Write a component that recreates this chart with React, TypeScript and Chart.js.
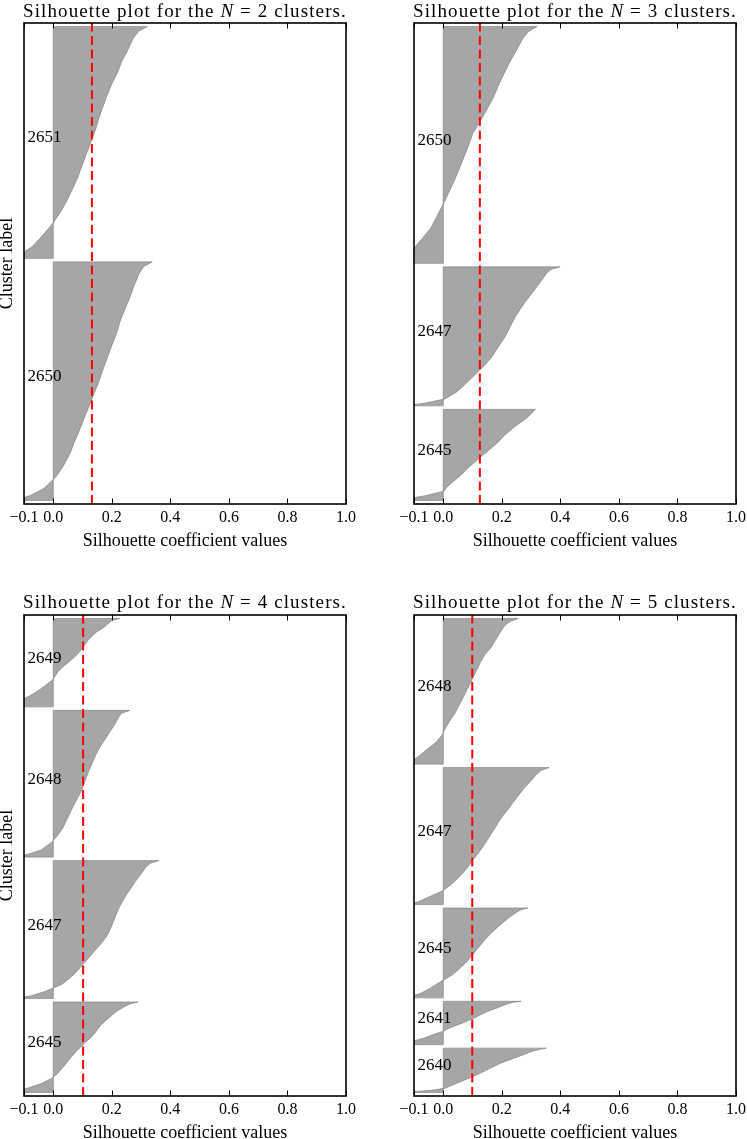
import React, { useEffect, useRef } from "react";
import { Chart, registerables } from "chart.js";

Chart.register(...registerables);

const FONT = '"Liberation Serif", "Times New Roman", serif';
const GRAY = "rgba(128,128,128,0.7)";

// sorted-position fractions at which each cluster's silhouette profile was read
const FRACTIONS = [0, 0.02, 0.05, 0.1, 0.15, 0.2, 0.25, 0.3, 0.35, 0.4, 0.45, 0.5, 0.55, 0.6, 0.65, 0.7, 0.75, 0.8, 0.85, 0.9, 0.95, 0.98, 1];

const X_TICKS = [-0.1, 0.0, 0.2, 0.4, 0.6, 0.8, 1.0];
const X_MIN = -0.1;
const X_MAX = 1.0;
const GAP = 10;
const LABEL_X = -0.088;

const N_CLUSTERS = [2, 3, 4, 5];
const AVERAGES = [0.132, 0.125, 0.102, 0.099];

// N = 2
const LABELS_2 = ["2650", "2651"];
const SIZES_2 = [673, 654];
const SIL_2_2650 = [-0.13, -0.08, -0.032, 0.01, 0.037, 0.058, 0.074, 0.091, 0.107, 0.124, 0.14, 0.156, 0.17, 0.185, 0.2, 0.216, 0.228, 0.244, 0.261, 0.276, 0.293, 0.308, 0.338];
const SIL_2_2651 = [-0.14, -0.11, -0.072, -0.036, -0.002, 0.025, 0.047, 0.066, 0.084, 0.098, 0.113, 0.128, 0.143, 0.155, 0.168, 0.183, 0.199, 0.219, 0.234, 0.255, 0.273, 0.292, 0.321];

// N = 3
const LABELS_3 = ["2645", "2647", "2650"];
const SIZES_3 = [259, 395, 673];
const SIL_3_2645 = [-0.14, -0.12, -0.065, 0.002, 0.013, 0.031, 0.05, 0.067, 0.082, 0.1, 0.118, 0.136, 0.155, 0.173, 0.191, 0.204, 0.222, 0.24, 0.261, 0.283, 0.3, 0.308, 0.315];
const SIL_3_2647 = [-0.13, -0.06, 0.005, 0.046, 0.072, 0.097, 0.121, 0.145, 0.165, 0.181, 0.196, 0.212, 0.224, 0.236, 0.249, 0.264, 0.281, 0.299, 0.317, 0.335, 0.352, 0.366, 0.399];
const SIL_3_2650 = [-0.15, -0.13, -0.11, -0.075, -0.042, -0.021, 0.0, 0.019, 0.038, 0.055, 0.071, 0.087, 0.101, 0.126, 0.149, 0.171, 0.188, 0.207, 0.227, 0.25, 0.272, 0.292, 0.321];

// N = 4
const LABELS_4 = ["2645", "2647", "2648", "2649"];
const SIZES_4 = [259, 395, 420, 253];
const SIL_4_2645 = [-0.14, -0.12, -0.085, -0.04, -0.009, 0.012, 0.025, 0.039, 0.051, 0.064, 0.077, 0.093, 0.108, 0.126, 0.14, 0.152, 0.163, 0.181, 0.199, 0.217, 0.244, 0.262, 0.289];
const SIL_4_2647 = [-0.13, -0.075, -0.03, 0.027, 0.058, 0.082, 0.102, 0.123, 0.143, 0.164, 0.182, 0.194, 0.204, 0.213, 0.223, 0.235, 0.249, 0.265, 0.281, 0.299, 0.315, 0.331, 0.361];
const SIL_4_2648 = [-0.13, -0.085, -0.04, -0.006, 0.016, 0.033, 0.045, 0.057, 0.069, 0.082, 0.096, 0.105, 0.114, 0.124, 0.135, 0.146, 0.159, 0.176, 0.192, 0.209, 0.222, 0.233, 0.262];
const SIL_4_2649 = [-0.15, -0.14, -0.13, -0.095, -0.066, -0.044, -0.024, -0.004, 0.007, 0.017, 0.032, 0.05, 0.068, 0.084, 0.096, 0.107, 0.118, 0.132, 0.149, 0.173, 0.19, 0.2, 0.227];

// N = 5
const LABELS_5 = ["2640", "2641", "2645", "2647", "2648"];
const SIZES_5 = [128, 125, 259, 395, 420];
const SIL_5_2640 = [-0.13, -0.1, -0.04, 0.008, 0.025, 0.043, 0.061, 0.079, 0.097, 0.114, 0.131, 0.146, 0.161, 0.176, 0.192, 0.211, 0.232, 0.252, 0.273, 0.292, 0.316, 0.334, 0.352];
const SIL_5_2641 = [-0.14, -0.13, -0.115, -0.092, -0.067, -0.046, -0.027, -0.004, 0.011, 0.026, 0.046, 0.066, 0.083, 0.101, 0.116, 0.13, 0.145, 0.164, 0.185, 0.202, 0.224, 0.24, 0.266];
const SIL_5_2645 = [-0.13, -0.105, -0.077, -0.048, -0.024, 0.001, 0.028, 0.047, 0.063, 0.08, 0.092, 0.105, 0.117, 0.13, 0.143, 0.157, 0.173, 0.19, 0.208, 0.227, 0.249, 0.265, 0.289];
const SIL_5_2647 = [-0.13, -0.085, -0.055, -0.002, 0.029, 0.053, 0.075, 0.093, 0.11, 0.128, 0.144, 0.159, 0.174, 0.188, 0.204, 0.223, 0.24, 0.258, 0.276, 0.298, 0.318, 0.335, 0.361];
const SIL_5_2648 = [-0.13, -0.11, -0.086, -0.056, -0.024, -0.004, 0.008, 0.023, 0.04, 0.053, 0.066, 0.078, 0.091, 0.103, 0.115, 0.127, 0.141, 0.163, 0.178, 0.193, 0.209, 0.228, 0.256];

type PanelCfg = { n: number; avg: number; labels: string[]; sizes: number[]; values: number[][] };

const PANELS: PanelCfg[] = [
  { n: N_CLUSTERS[0], avg: AVERAGES[0], labels: LABELS_2, sizes: SIZES_2, values: [SIL_2_2650, SIL_2_2651] },
  { n: N_CLUSTERS[1], avg: AVERAGES[1], labels: LABELS_3, sizes: SIZES_3, values: [SIL_3_2645, SIL_3_2647, SIL_3_2650] },
  { n: N_CLUSTERS[2], avg: AVERAGES[2], labels: LABELS_4, sizes: SIZES_4, values: [SIL_4_2645, SIL_4_2647, SIL_4_2648, SIL_4_2649] },
  { n: N_CLUSTERS[3], avg: AVERAGES[3], labels: LABELS_5, sizes: SIZES_5, values: [SIL_5_2640, SIL_5_2641, SIL_5_2645, SIL_5_2647, SIL_5_2648] },
];

function fmtTick(v: number): string {
  const s = Math.abs(v).toFixed(1);
  return v < -1e-9 ? "\u2212" + s : s;
}

type PanelProps = {
  cfg: PanelCfg;
  left: number;
  top: number;
  width: number;
  yWidth: number;
  padRight: number;
  showYTitle: boolean;
};

const CANVAS_H = 560;

function Panel({ cfg, left, top, width, yWidth, padRight, showYTitle }: PanelProps) {
  const ref = useRef<HTMLCanvasElement | null>(null);

  useEffect(() => {
    if (!ref.current) return;
    const total = cfg.sizes.reduce((a, b) => a + b, 0);
    const yMax = total + (cfg.sizes.length + 1) * GAP;

    const datasets: any[] = [];
    datasets.push({
      label: "average",
      data: [
        { x: cfg.avg, y: 0 },
        { x: cfg.avg, y: yMax },
      ],
      borderColor: "#ff0000",
      borderWidth: 2,
      borderDash: [9, 4.5],
      pointRadius: 0,
      fill: false,
      tension: 0,
      clip: 0,
    });

    const edge: any[] = [];
    const mids: number[] = [];
    let yLower = GAP;
    cfg.sizes.forEach((size, i) => {
      const vals = cfg.values[i];
      const pts: any[] = [{ x: 0, y: yLower }];
      FRACTIONS.forEach((f, j) => pts.push({ x: vals[j], y: yLower + f * size }));
      pts.push({ x: 0, y: yLower + size });
      datasets.push({
        label: cfg.labels[i],
        data: pts,
        borderColor: GRAY,
        backgroundColor: GRAY,
        borderWidth: 1,
        pointRadius: 0,
        fill: "origin",
        tension: 0,
        clip: 0,
      });
      edge.push({ x: 0, y: yLower }, { x: 0, y: yLower + size }, { x: null, y: yLower + size + GAP / 2 });
      mids.push(yLower + size / 2);
      yLower += size + GAP;
    });
    datasets.push({
      label: "edge",
      data: edge,
      borderColor: GRAY,
      borderWidth: 1,
      pointRadius: 0,
      fill: false,
      spanGaps: false,
      tension: 0,
      clip: 0,
    });

    const decor = {
      id: "decor",
      afterDatasetsDraw(chart: any) {
        const { ctx, chartArea: a, scales } = chart;
        const xs = scales.x;
        const ys = scales.y;
        ctx.save();
        // inward ticks top and bottom
        ctx.strokeStyle = "#000";
        ctx.lineWidth = 1;
        X_TICKS.forEach((v) => {
          const px = Math.round(xs.getPixelForValue(v)) + 0.5;
          ctx.beginPath();
          ctx.moveTo(px, a.bottom);
          ctx.lineTo(px, a.bottom - 5.5);
          ctx.moveTo(px, a.top);
          ctx.lineTo(px, a.top + 5.5);
          ctx.stroke();
        });
        // frame
        ctx.lineWidth = 1.6;
        ctx.strokeRect(a.left, a.top, a.right - a.left, a.bottom - a.top);
        // cluster labels
        ctx.fillStyle = "#000";
        ctx.font = `17px ${FONT}`;
        ctx.textAlign = "left";
        ctx.textBaseline = "alphabetic";
        mids.forEach((m, i) => {
          ctx.fillText(cfg.labels[i], xs.getPixelForValue(LABEL_X), ys.getPixelForValue(m));
        });
        ctx.restore();
      },
    };

    const chart = new Chart(ref.current, {
      type: "line",
      data: { datasets },
      plugins: [decor],
      options: {
        indexAxis: "y",
        responsive: false,
        animation: false,
        events: [],
        layout: { padding: { top: 23, right: padRight, bottom: 0, left: 0 } },
        plugins: {
          legend: { display: false },
          tooltip: { enabled: false },
          title: { display: false },
        },
        scales: {
          x: {
            type: "linear",
            position: "bottom",
            min: X_MIN,
            max: X_MAX,
            afterBuildTicks: (s: any) => {
              s.ticks = X_TICKS.map((v) => ({ value: v }));
            },
            afterFit: (s: any) => {
              s.height = 56;
            },
            grid: { display: false, drawTicks: false, tickLength: 0 },
            border: { display: false },
            ticks: {
              autoSkip: false,
              maxRotation: 0,
              minRotation: 0,
              padding: 4,
              color: "#000",
              font: { family: FONT, size: 16 },
              callback: (v: any) => fmtTick(Number(v)),
            },
            title: {
              display: true,
              text: "Silhouette coefficient values",
              color: "#000",
              font: { family: FONT, size: 18, lineHeight: 1.2 },
              padding: { top: 0, bottom: 8.2 },
            },
          },
          y: {
            type: "linear",
            position: "left",
            min: 0,
            max: yMax,
            afterFit: (s: any) => {
              s.width = yWidth;
            },
            grid: { display: false, drawTicks: false, tickLength: 0 },
            border: { display: false },
            ticks: { display: false },
            title: {
              display: showYTitle,
              text: "Cluster label",
              color: "#000",
              font: { family: FONT, size: 18, lineHeight: 15 / 18 },
              padding: 0,
            },
          },
        },
      } as any,
    });
    return () => chart.destroy();
  }, [cfg, yWidth, padRight, showYTitle]);

  return (
    <canvas
      ref={ref}
      width={width}
      height={CANVAS_H}
      style={{ position: "absolute", left, top, width, height: CANVAS_H }}
    />
  );
}

function Title({ n, center, top }: { n: number; center: number; top: number }) {
  return (
    <div
      style={{
        position: "absolute",
        left: center - 200,
        width: 400,
        top,
        textAlign: "center",
        fontFamily: FONT,
        fontSize: 19,
        lineHeight: "19px",
        letterSpacing: "1.1px",
        whiteSpace: "nowrap",
        color: "#000",
      }}
    >
      Silhouette plot for the <i>N</i> = {n} clusters.
    </div>
  );
}

export default function App() {
  return (
    <div
      style={{
        position: "absolute",
        left: 0,
        top: 0,
        width: 747,
        height: 1139,
        overflow: "hidden",
        background: "#fff",
      }}
    >
      <Panel cfg={PANELS[0]} left={0} top={0} width={373} yWidth={24} padRight={27} showYTitle={true} />
      <Panel cfg={PANELS[1]} left={373} top={0} width={394} yWidth={41} padRight={31} showYTitle={false} />
      <Panel cfg={PANELS[2]} left={0} top={592} width={373} yWidth={24} padRight={27} showYTitle={true} />
      <Panel cfg={PANELS[3]} left={373} top={592} width={394} yWidth={41} padRight={31} showYTitle={false} />
      <Title n={PANELS[0].n} center={185} top={0.5} />
      <Title n={PANELS[1].n} center={575} top={0.5} />
      <Title n={PANELS[2].n} center={185} top={591.5} />
      <Title n={PANELS[3].n} center={575} top={591.5} />
    </div>
  );
}
